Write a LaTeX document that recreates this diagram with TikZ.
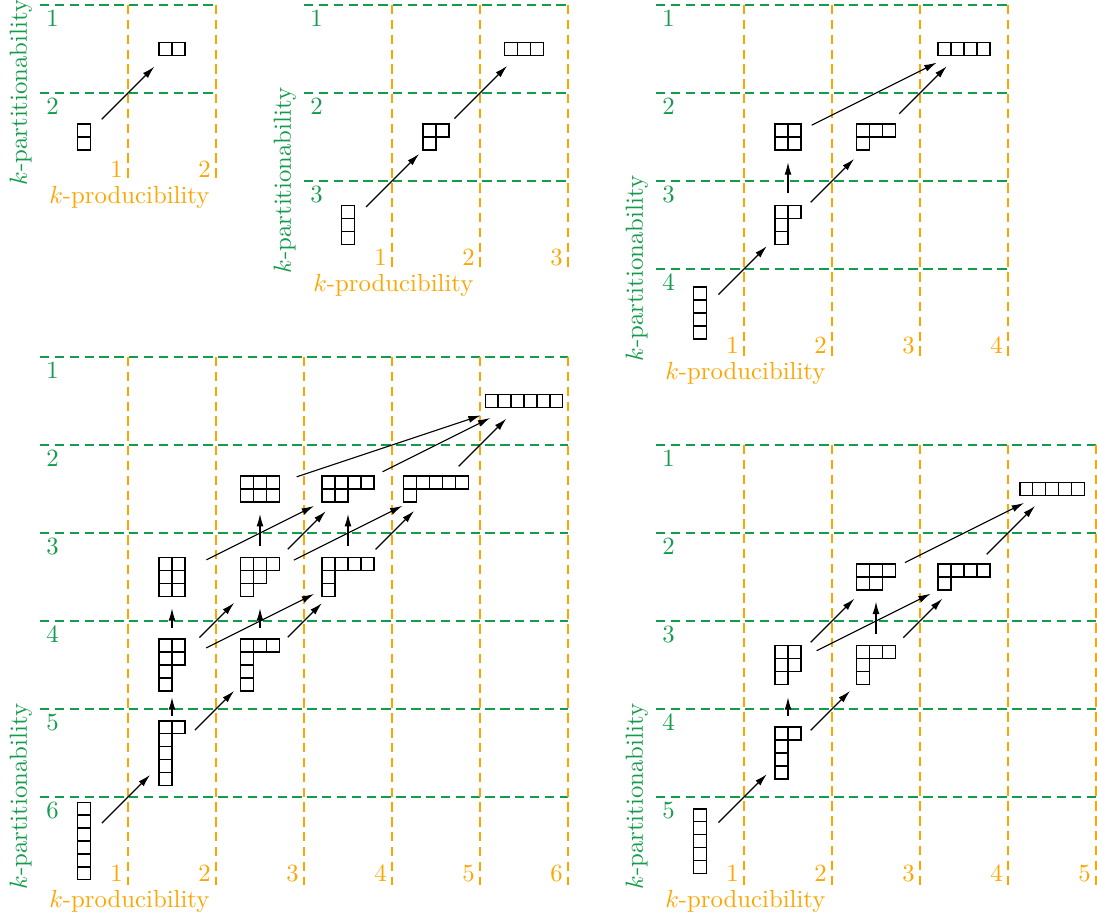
\documentclass[tikz,border=0pt]{standalone}
\usetikzlibrary{arrows.meta}
\definecolor{kgreen}{RGB}{20,155,75}
\definecolor{korange}{RGB}{255,165,0}
\newlength\bxl \setlength\bxl{0.18325cm}
\tikzset{
  gline/.style={draw=kgreen, line width=0.6pt, dash pattern=on 3.8pt off 2.2pt},
  oline/.style={draw=korange, line width=0.6pt, dash pattern=on 3.8pt off 2.2pt},
  glab/.style={text=kgreen, inner sep=0pt},
  olab/.style={text=korange, inner sep=0pt},
  xlab/.style={text=korange, anchor=base west, inner sep=0pt},
  ylab/.style={text=kgreen, rotate=90, anchor=base west, inner sep=0pt},
  ydnode/.style={inner sep=0pt, outer sep=0pt, draw=none},
  ybox/.style={line width=0.6pt},
  ar/.style 2 args={-{Latex[length=5pt,width=2.8pt]}, line width=0.45pt,
     shorten <={#1*0.40416pt}, shorten >={#2*0.40416pt}},
}
% Young diagram: name, cx, cy, ncols, nrows, row lengths
\newcommand{\yd}[6]{%
  \node[ydnode, minimum width=#4*\bxl, minimum height=#5*\bxl] (#1) at (#2,#3) {};
  \foreach \len [count=\rr] in {#6} {
    \foreach \cc in {1,...,\len} {
      \draw[ybox] ({#2+(\cc-1-#4/2)*0.1466},{#3-(\rr-1-#5/2)*0.1466}) rectangle ++(0.1466,-0.1466);
    }
  }
}
% panel: prefix, ox, oy, n
\newcommand{\panel}[4]{%
  \foreach \i in {1,...,#4} {
    \draw[gline] (#2,{#3-(\i-1)}) -- ({#2+#4},{#3-(\i-1)});
    \node[glab] (#1g\i) at ({#2+0.142},{#3-(\i-1)-0.153}) {\i};
  }
  \foreach \j in {1,...,#4} {
    \draw[oline] ({#2+\j},#3) -- ({#2+\j},{#3-#4});
    \node[olab] (#1o\j) at ({#2+\j-0.13},{#3-#4+0.13}) {\j};
  }
  \node[xlab] (#1x) at ({#2+0.1},{#3-#4-0.26}) {$k$-producibility};
  \node[ylab] (#1y) at ({#2-0.15},{#3-#4-0.055}) {$k$-partitionability};
}
\begin{document}
\begin{tikzpicture}[x=1.25cm,y=1.25cm]
\useasboundingbox (0,0) rectangle (12.4659,-10.4659);
\panel{B}{0.4545}{-0.0568}{2}
\panel{C}{3.4545}{-0.0568}{3}
\panel{D}{7.4545}{-0.0568}{4}
\panel{E}{7.4545}{-5.0568}{5}
\panel{F}{0.4545}{-4.0568}{6}

% n = 2
\yd{B11}{0.9545}{-1.5568}{1}{2}{1,1}
\yd{B2}{1.9545}{-0.5568}{2}{1}{2}
% n = 3
\yd{C111}{3.9545}{-2.5568}{1}{3}{1,1,1}
\yd{C21}{4.9545}{-1.5568}{2}{2}{2,1}
\yd{C3}{5.9545}{-0.5568}{3}{1}{3}
% n = 4
\yd{D1111}{7.9545}{-3.5568}{1}{4}{1,1,1,1}
\yd{D211}{8.9545}{-2.5568}{2}{3}{2,1,1}
\yd{D22}{8.9545}{-1.5568}{2}{2}{2,2}
\yd{D31}{9.9545}{-1.5568}{3}{2}{3,1}
\yd{D4}{10.9545}{-0.5568}{4}{1}{4}
% n = 5
\yd{E11111}{7.9545}{-9.5568}{1}{5}{1,1,1,1,1}
\yd{E2111}{8.9545}{-8.5568}{2}{4}{2,1,1,1}
\yd{E221}{8.9545}{-7.5568}{2}{3}{2,2,1}
\yd{E311}{9.9545}{-7.5568}{3}{3}{3,1,1}
\yd{E32}{9.9545}{-6.5568}{3}{2}{3,2}
\yd{E41}{10.9545}{-6.5568}{4}{2}{4,1}
\yd{E5}{11.9545}{-5.5568}{5}{1}{5}
% n = 6
\yd{F111111}{0.9545}{-9.5568}{1}{6}{1,1,1,1,1,1}
\yd{F21111}{1.9545}{-8.5568}{2}{5}{2,1,1,1,1}
\yd{F2211}{1.9545}{-7.5568}{2}{4}{2,2,1,1}
\yd{F3111}{2.9545}{-7.5568}{3}{4}{3,1,1,1}
\yd{F222}{1.9545}{-6.5568}{2}{3}{2,2,2}
\yd{F321}{2.9545}{-6.5568}{3}{3}{3,2,1}
\yd{F411}{3.9545}{-6.5568}{4}{3}{4,1,1}
\yd{F33}{2.9545}{-5.5568}{3}{2}{3,3}
\yd{F42}{3.9545}{-5.5568}{4}{2}{4,2}
\yd{F51}{4.9545}{-5.5568}{5}{2}{5,1}
\yd{F6}{5.9545}{-4.5568}{6}{1}{6}

% arrows n = 2
\draw[ar={25}{25}] (B11.center) -- (B2.center);
% n = 3
\draw[ar={25.5}{24}] (C111.center) -- (C21.center);
\draw[ar={26}{24}] (C21.center) -- (C3.center);
% n = 4
\draw[ar={26}{30}] (D1111.center) -- (D211.center);
\draw[ar={31.7}{25.3}] (D211.center) -- (D22.center);
\draw[ar={32}{31}] (D211.center) -- (D31.center);
\draw[ar={26.5}{30.5}] (D22.center) -- (D4.center);
\draw[ar={33}{24.5}] (D31.center) -- (D4.center);
% n = 5
\draw[ar={26}{30}] (E11111.center) -- (E2111.center);
\draw[ar={37.3}{32.3}] (E2111.center) -- (E221.center);
\draw[ar={32}{36.8}] (E2111.center) -- (E311.center);
\draw[ar={32}{30.7}] (E221.center) -- (E32.center);
\draw[ar={32}{37.2}] (E221.center) -- (E41.center);
\draw[ar={31}{24.7}] (E311.center) -- (E32.center);
\draw[ar={38.6}{30.7}] (E311.center) -- (E41.center);
\draw[ar={32.4}{31.3}] (E32.center) -- (E5.center);
\draw[ar={32}{24}] (E41.center) -- (E5.center);
% n = 6
\draw[ar={25.3}{31}] (F111111.center) -- (F21111.center);
\draw[ar={37.3}{32.3}] (F21111.center) -- (F2211.center);
\draw[ar={32.4}{36.6}] (F21111.center) -- (F3111.center);
\draw[ar={37.3}{31.3}] (F2211.center) -- (F222.center);
\draw[ar={38.8}{36.6}] (F2211.center) -- (F321.center);
\draw[ar={38.2}{37.9}] (F2211.center) -- (F411.center);
\draw[ar={37.3}{31.3}] (F3111.center) -- (F321.center);
\draw[ar={39.3}{37}] (F3111.center) -- (F411.center);
\draw[ar={38.5}{38}] (F222.center) -- (F42.center);
\draw[ar={31}{25}] (F321.center) -- (F33.center);
\draw[ar={39.3}{31.5}] (F321.center) -- (F42.center);
\draw[ar={37.8}{37.5}] (F321.center) -- (F51.center);
\draw[ar={31}{25}] (F411.center) -- (F42.center);
\draw[ar={38.9}{31}] (F411.center) -- (F51.center);
\draw[ar={38.6}{45.6}] (F33.center) -- (F6.center);
\draw[ar={38.6}{37.8}] (F42.center) -- (F6.center);
\draw[ar={32}{25}] (F51.center) -- (F6.center);
\end{tikzpicture}
\end{document}
